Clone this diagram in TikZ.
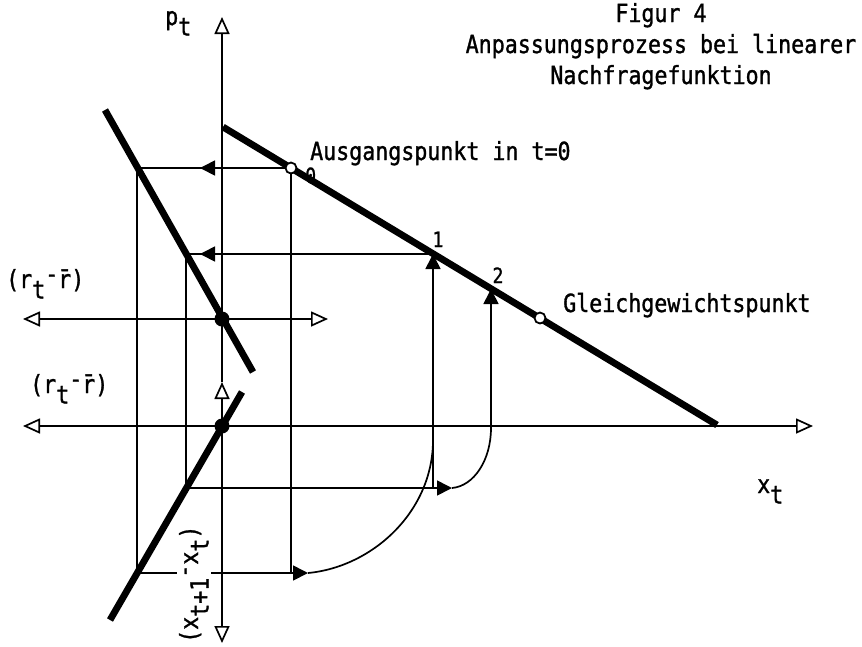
\documentclass[tikz,border=0pt]{standalone}
\usepackage{fontspec}
\newfontfamily\tw[FakeStretch=0.865,FakeBold=1.2]{DejaVu Sans Mono}
\usetikzlibrary{arrows.meta}
\newcommand\lowr[1]{\raisebox{-0.42em}{#1}}
\newcommand\highr[1]{\raisebox{0.22em}{#1}}
\begin{document}
\begin{tikzpicture}[x=1pt,y=-1pt,
  tl/.style={line width=1.7pt},
  thk/.style={line width=6.8pt},
  oarr/.style={{Triangle[open,length=17pt,width=15pt]}-{Triangle[open,length=17pt,width=15pt]}},
  oend/.style={-{Triangle[open,length=17pt,width=15pt]}},
  farr/.style={-{Triangle[length=15pt,width=15pt]}},
  typ/.style={font=\tw\fontsize{25}{29}\selectfont, inner sep=0pt},
  styp/.style={font=\tw\fontsize{21}{24}\selectfont, inner sep=0pt},
  ocirc/.style={circle, draw, fill=white, line width=1.8pt, minimum size=11pt, inner sep=0pt},
  fdot/.style={circle, fill=black, minimum size=15pt, inner sep=0pt}]
\useasboundingbox (0,0) rectangle (862,646);
% coordinates
\coordinate (D0) at (223,127); \coordinate (D1) at (717,425);
\coordinate (P0) at (291,168); \coordinate (P1) at (433,254);
\coordinate (P2) at (491,289); \coordinate (PE) at (540,318);
\coordinate (SU0) at (105,110); \coordinate (SU1) at (253,372);
\coordinate (SL0) at (110,620); \coordinate (SL1) at (242,392);
\coordinate (A0) at (137,168); \coordinate (A1) at (186,254);
\coordinate (B0) at (137,573); \coordinate (B1) at (186,488);
\coordinate (R1) at (222,319); \coordinate (R2) at (222,426);
\coordinate (M0) at (200,168); \coordinate (M1) at (200,254);
\coordinate (H0) at (308,573); \coordinate (H1) at (452,488);
\coordinate (V0) at (291,573); \coordinate (V1) at (433,488);
\coordinate (C1) at (433,440); \coordinate (C2) at (491,428);
\coordinate (XL) at (23,426); \coordinate (XR) at (813,426);
\coordinate (RL) at (23,319); \coordinate (RR) at (328,319);
\coordinate (VT) at (222,17); \coordinate (VM) at (222,382); \coordinate (VB) at (222,643);
% axes
\draw[tl,oarr] (XL) -- (XR);
\draw[tl,oarr] (RL) -- (RR);
\draw[tl,oend] (VM) -- (VT);
\draw[tl,oarr] (VB) -- (VM);
% construction lines
\draw[tl] (P0) -- (A0);
\draw[tl,farr] (P0) -- (M0);
\draw[tl] (P1) -- (A1);
\draw[tl,farr] (P1) -- (M1);
\draw[tl] (A0) -- (B0);
\draw[tl] (A1) -- (B1);
\draw[tl] (P0) -- (V0);
\draw[tl,farr] (B0) -- (H0);
\draw[tl,farr] (B1) -- (H1);
\draw[tl] (H0) .. controls (372,567) and (433,512) .. (C1);
\draw[tl] (H1) .. controls (474,486) and (491,460) .. (C2);
\draw[tl,farr] (V1) -- (P1);
\draw[tl,farr] (C2) -- (P2);
% thick lines
\draw[thk] (D0) -- (D1);
\draw[thk] (SU0) -- (SU1);
\draw[thk] (SL0) -- (SL1);
% points
\node[ocirc] (c0) at (P0) {};
\node[ocirc] (ce) at (PE) {};
\node[fdot] (d1) at (R1) {};
\node[fdot] (d2) at (R2) {};
% texts
\node[typ,anchor=base] (t1) at (661,22) {Figur 4};
\node[typ,anchor=base] (t2) at (661,53) {Anpassungsprozess bei linearer};
\node[typ,anchor=base] (t3) at (661,84) {Nachfragefunktion};
\node[typ,anchor=base west] (aus) at (310,160) {Ausgangspunkt in t=0};
\node[typ,anchor=base west] (gg) at (563,312) {Gleichgewichtspunkt};
\node[styp,anchor=base west] (n0) at (305,183) {0};
\node[styp,anchor=base] (n1) at (438,247) {1};
\node[styp,anchor=base] (n2) at (498,283) {2};
\node[typ,anchor=base west] (pt) at (165,25) {p\lowr{t}};
\node[typ,anchor=base west] (xt) at (757,493) {x\lowr{t}};
\node[typ,anchor=base west] (r1) at (6,288) {(r\lowr{t}\highr{-}\={r})};
\node[typ,anchor=base west] (r2) at (30,393) {(r\lowr{t}\highr{-}\={r})};
\node[typ,anchor=base west,rotate=90,fill=white,inner sep=2pt] (dx) at (198,645) {(x\lowr{t+1}\highr{-}x\lowr{t})};
\end{tikzpicture}
\end{document}
